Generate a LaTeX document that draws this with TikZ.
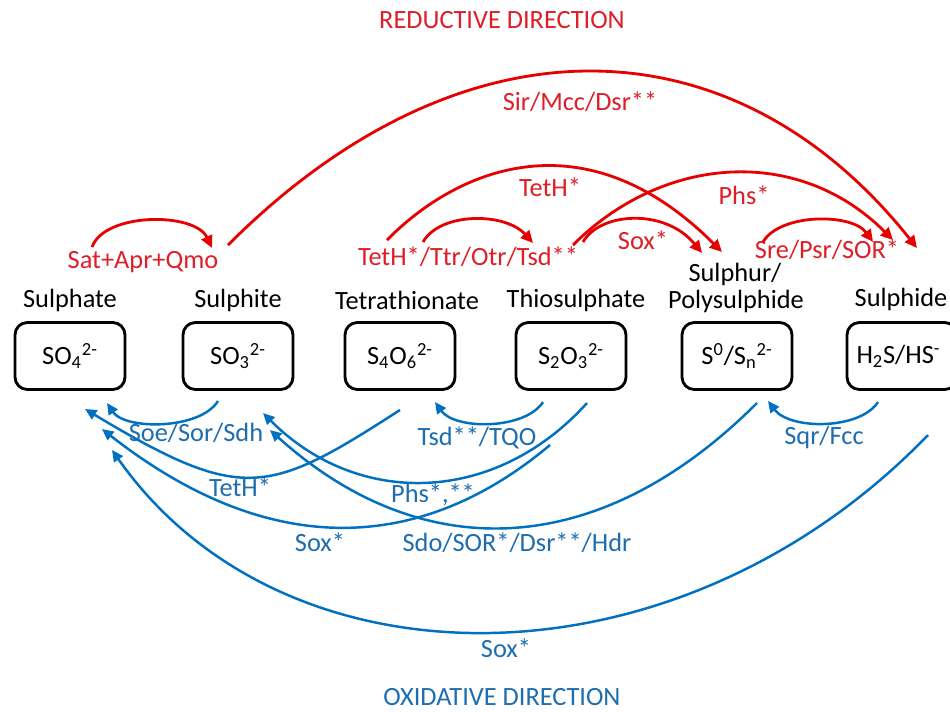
\documentclass[tikz,border=0pt]{standalone}
\usepackage{fontspec}
\setmainfont{Carlito}
\usetikzlibrary{arrows.meta}
\definecolor{rline}{RGB}{230,0,0}
\definecolor{rtext}{RGB}{222,30,40}
\definecolor{bline}{RGB}{0,112,192}
\definecolor{btext}{RGB}{30,110,175}
\begin{document}
\begin{tikzpicture}[x=0.02cm,y=-0.02cm,
  every node/.style={inner sep=0pt, font=\fontsize{15}{18}\selectfont},
  cbox/.style={draw=black, line width=1.6pt, rounded corners=7pt, minimum width=2.2cm, minimum height=1.34cm},
  cname/.style={text=black},
  rlab/.style={text=rtext},
  blab/.style={text=btext},
  redarr/.style={draw=rline, line width=1.6pt, -{Triangle[length=7pt,width=6.5pt]}},
  bluearr/.style={draw=bline, line width=1.4pt, -{Triangle[length=6.5pt,width=6pt]}}]
\useasboundingbox (0,0) rectangle (950,711);
\fill[white] (0,0) rectangle (950,711);

% titles
\node[rlab] (rt) at (502,20) {REDUCTIVE DIRECTION};
\node[blab] (ot) at (502,697) {OXIDATIVE DIRECTION};

% compound names
\node[cname] (n1) at (70,300) {Sulphate};
\node[cname] (n2) at (238,300) {Sulphite};
\node[cname] (n3) at (407,300) {Tetrathionate};
\node[cname] (n4) at (576,300) {Thiosulphate};
\node[cname] (n5a) at (735,274) {Sulphur/};
\node[cname] (n5b) at (736,301) {Polysulphide};
\node[cname] (n6) at (901,299) {Sulphide};

% boxes
\node[cbox] (b1) at (70,356) {SO\textsubscript{4}\textsuperscript{2-}};
\node[cbox] (b2) at (238,356) {SO\textsubscript{3}\textsuperscript{2-}};
\node[cbox] (b3) at (400,356) {S\textsubscript{4}O\textsubscript{6}\textsuperscript{2-}};
\node[cbox] (b4) at (571,356) {S\textsubscript{2}O\textsubscript{3}\textsuperscript{2-}};
\node[cbox] (b5) at (737,356) {S\textsuperscript{0}/S\textsubscript{n}\textsuperscript{2-}};
\node[cbox, text width=1.9cm, align=center] (b6) at (902,356) {\hspace*{-4pt}H\textsubscript{2}S/HS\textsuperscript{-}};

% red labels
\node[rlab] (l1) at (580,102) {Sir/Mcc/Dsr**};
\node[rlab] (l2) at (550,187) {TetH*};
\node[rlab] (l3) at (744,195) {Phs*};
\node[rlab] (l4) at (143,262) {Sat+Apr+Qmo};
\node[rlab] (l5) at (468,257) {TetH*/Ttr/Otr/Tsd**};
\node[rlab] (l6) at (643,240) {Sox*};
\node[rlab] (l7) at (827,250) {Sre/Psr/SOR*};

% blue labels
\node[blab] (m1) at (196,433) {Soe/Sor/Sdh};
\node[blab] (m2) at (477,438) {Tsd**/TQO};
\node[blab] (m3) at (824,437) {Sqr/Fcc};
\node[blab] (m4) at (240,487) {TetH*};
\node[blab] (m5) at (433,495) {Phs*,**};
\node[blab] (m6) at (320,542) {Sox*};
\node[blab] (m7) at (517,543) {Sdo/SOR*/Dsr**/Hdr};
\node[blab] (m8) at (506,648) {Sox*};

% red arrow end points
\coordinate (r1s) at (92,247);  \coordinate (r1e) at (212,248);
\coordinate (r2s) at (228,245); \coordinate (r2e) at (917,248);
\coordinate (r3s) at (387,240); \coordinate (r3e) at (722,252);
\coordinate (r4s) at (423,242); \coordinate (r4e) at (533,243);
\coordinate (r5s) at (573,245); \coordinate (r5e) at (893,240);
\coordinate (r6s) at (583,242); \coordinate (r6e) at (702,253);
\coordinate (r7s) at (763,242); \coordinate (r7e) at (873,242);

\draw[redarr] (r1s) .. controls (105,212) and (195,212) .. (r1e);
\draw[redarr] (r2s) .. controls (463,10) and (734,18) .. (r2e);
\draw[redarr] (r3s) .. controls (458,168) and (585,115) .. (r3e);
\draw[redarr] (r4s) .. controls (440,212) and (505,212) .. (r4e);
\draw[redarr] (r5s) .. controls (663,155) and (798,145) .. (r5e);
\draw[redarr] (r6s) .. controls (600,212) and (665,208) .. (r6e);
\draw[redarr] (r7s) .. controls (780,213) and (852,213) .. (r7e);

% blue arrow end points
\coordinate (o1s) at (218,401); \coordinate (o1e) at (107,403);
\coordinate (o2s) at (543,402); \coordinate (o2e) at (435,402);
\coordinate (o3s) at (878,402); \coordinate (o3e) at (768,401);
\coordinate (o4s) at (400,410); \coordinate (o4e) at (85,409);
\coordinate (o5s) at (550,445); \coordinate (o5e) at (102,429);
\coordinate (o6s) at (587,403); \coordinate (o6e) at (263,413);
\coordinate (o7s) at (757,403); \coordinate (o7e) at (270,430);
\coordinate (o8s) at (928,435); \coordinate (o8e) at (112,450);

\draw[bluearr] (o1s) .. controls (200,430) and (125,430) .. (o1e);
\draw[bluearr] (o2s) .. controls (525,430) and (455,430) .. (o2e);
\draw[bluearr] (o3s) .. controls (860,430) and (790,430) .. (o3e);
\draw[bluearr] (o4s) .. controls (268,495) and (243,504) .. (o4e);
\draw[bluearr] (o5s) .. controls (419,555) and (268,559) .. (o5e);
\draw[bluearr] (o6s) .. controls (495,505) and (358,508) .. (o6e);
\draw[bluearr] (o7s) .. controls (598,562) and (421,566) .. (o7e);
\draw[bluearr] (o8s) .. controls (677,695) and (284,695) .. (o8e);
\end{tikzpicture}
\end{document}
